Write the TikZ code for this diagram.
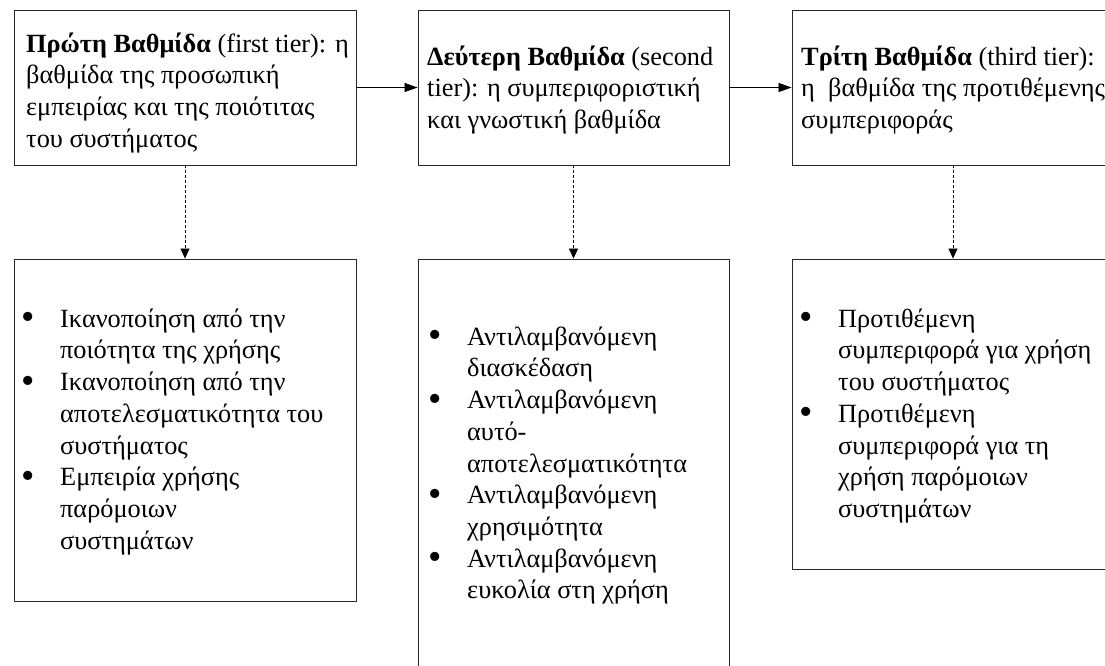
\documentclass[tikz,border=0pt]{standalone}
\usepackage{fontspec}
\setmainfont{Liberation Serif}
\usetikzlibrary{arrows.meta}
\newcommand\mybul{\llap{\raisebox{-2.5pt}{\scalebox{1.45}{•}}\hspace{25pt}}}
\begin{document}
\begin{tikzpicture}[x=1pt,y=-1pt,
  box/.style={draw=black!85, line width=0.9pt, inner sep=0pt, fill=white},
  txt/.style={font=\fontsize{26.3}{31.7}\selectfont, align=left, inner sep=0pt, anchor=north west, yshift=22.19pt},
  flow/.style={-{Triangle[length=13pt,width=9pt]}, line width=0.8pt},
  dflow/.style={-{Triangle[length=10pt,width=9pt]}, line width=0.8pt, dash pattern=on 3pt off 2pt}]
\fill[white] (0,0) rectangle (1105,665);
\clip (0,0) rectangle (1105,665);
\node[box, minimum width=342pt, minimum height=155pt] (A) at (185,87.5) {};
\node[box, minimum width=311pt, minimum height=155pt] (B) at (573.5,87.5) {};
\node[box, minimum width=322pt, minimum height=155pt] (C) at (953,87.5) {};
\node[box, minimum width=342pt, minimum height=342pt] (D) at (185,430) {};
\node[box, minimum width=311pt, minimum height=431pt] (E) at (573.5,474.5) {};
\node[box, minimum width=322pt, minimum height=310pt] (F) at (953,414) {};

\node[txt] (tA) at (26,52) {\strut\textbf{Πρώτη Βαθμίδα} (first tier): η\\βαθμίδα της προσωπική\\εμπειρίας και της ποιότιτας\\του συστήματος};
\node[txt] (tB) at (427,65) {\strut\textbf{Δεύτερη Βαθμίδα} (second\\tier): η συμπεριφοριστική\\και γνωστική βαθμίδα};
\node[txt] (tC) at (801,65) {\strut\textbf{Τρίτη Βαθμίδα} (third tier):\\η\ \ βαθμίδα της προτιθέμενης\\συμπεριφοράς};

\node[txt] (tD) at (60,327) {\strut\mybul Ικανοποίηση από την\\ποιότητα της χρήσης\\\mybul Ικανοποίηση από την\\αποτελεσματικότητα του\\συστήματος\\\mybul Εμπειρία χρήσης\\παρόμοιων\\συστημάτων};
\node[txt] (tE) at (467,345) {\strut\mybul Αντιλαμβανόμενη\\διασκέδαση\\\mybul Αντιλαμβανόμενη\\αυτό-\\αποτελεσματικότητα\\\mybul Αντιλαμβανόμενη\\χρησιμότητα\\\mybul Αντιλαμβανόμενη\\ευκολία στη χρήση};
\node[txt] (tF) at (838,327) {\strut\mybul Προτιθέμενη\\συμπεριφορά για χρήση\\του συστήματος\\\mybul Προτιθέμενη\\συμπεριφορά για τη\\χρήση παρόμοιων\\συστημάτων};

\draw[flow] (A.east) -- (B.west);
\draw[flow] (B.east) -- (C.west);
\draw[dflow] (A.south) -- (D.north);
\draw[dflow] (B.south) -- (E.north);
\draw[dflow] (C.south) -- (F.north);
\end{tikzpicture}
\end{document}
